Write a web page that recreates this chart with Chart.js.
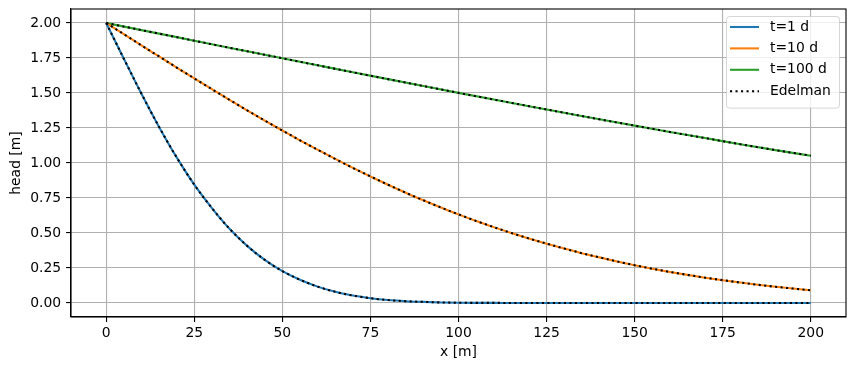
<!DOCTYPE html>
<html>
<head>
<meta charset="utf-8">
<script src="https://cdn.jsdelivr.net/npm/chart.js@4"></script>
<style>
  html, body { margin: 0; padding: 0; background: #fff; }
  #chart { display: block; }
</style>
</head>
<body>
<canvas id="chart" width="855" height="371"></canvas>
<script>
// head profiles

const seriesLabels = ['t=1 d', 't=10 d', 't=100 d'];
const edelmanLabel = 'Edelman';

const xBlue = [0, 5, 10, 15, 20, 25, 30, 35, 40, 45, 50, 55, 60, 65, 70, 75, 80, 85, 90, 95, 100, 105, 110, 115, 120, 140, 160, 180, 200];
const headBlue = [2.000, 1.745, 1.495, 1.258, 1.040, 0.845, 0.678, 0.530, 0.408, 0.308, 0.228, 0.166, 0.117, 0.080, 0.053, 0.034, 0.021, 0.013, 0.008, 0.004, 0.002, 0.001, 0.001, 0.000, 0.000, 0, 0, 0, 0];

const xOrange = [0, 5, 10, 15, 20, 25, 30, 35, 40, 45, 50, 55, 60, 65, 70, 75, 80, 85, 90, 95, 100, 105, 110, 115, 120, 125, 130, 135, 140, 145, 150, 155, 160, 165, 170, 175, 180, 185, 190, 195, 200];
const headOrange = [2.000, 1.920, 1.840, 1.761, 1.682, 1.604, 1.527, 1.451, 1.376, 1.303, 1.232, 1.162, 1.095, 1.029, 0.965, 0.904, 0.845, 0.788, 0.734, 0.682, 0.633, 0.586, 0.542, 0.500, 0.461, 0.424, 0.389, 0.356, 0.326, 0.297, 0.270, 0.245, 0.222, 0.201, 0.181, 0.163, 0.146, 0.130, 0.116, 0.103, 0.091];

const xGreen = [0, 10, 20, 30, 40, 50, 60, 70, 80, 90, 100, 110, 120, 130, 140, 150, 160, 170, 180, 190, 200];
const headGreen = [2.000, 1.949, 1.899, 1.848, 1.798, 1.748, 1.698, 1.648, 1.599, 1.550, 1.501, 1.453, 1.406, 1.359, 1.312, 1.267, 1.222, 1.178, 1.134, 1.092, 1.052];

const xTicks = [0, 25, 50, 75, 100, 125, 150, 175, 200];
const yTicks = [0, 0.25, 0.5, 0.75, 1.0, 1.25, 1.5, 1.75, 2.0];

const colors = ['#1f77b4', '#ff7f0e', '#2ca02c'];
const FONT = { family: 'DejaVu Sans', size: 13.9 };
const LW = 2.08;

function pts(xs, ys) {
  return xs.map((x, i) => ({ x: x, y: ys[i] }));
}

const profiles = [pts(xBlue, headBlue), pts(xOrange, headOrange), pts(xGreen, headGreen)];

const datasets = [];
profiles.forEach((d, i) => {
  datasets.push({
    label: seriesLabels[i],
    data: d,
    borderColor: colors[i],
    borderWidth: LW,
    pointRadius: 0,
    cubicInterpolationMode: 'monotone',
    order: 2,
  });
});
profiles.forEach((d, i) => {
  datasets.push({
    label: i === 0 ? edelmanLabel : '',
    data: d,
    borderColor: '#000',
    borderWidth: LW,
    borderDash: [LW, 3.43],
    borderCapStyle: 'butt',
    pointRadius: 0,
    cubicInterpolationMode: 'monotone',
    order: 1,
  });
});

// top/right spines like matplotlib
const framePlugin = {
  id: 'frame',
  afterDatasetsDraw(chart) {
    const a = chart.chartArea, ctx = chart.ctx;
    ctx.save();
    ctx.strokeStyle = '#000';
    ctx.lineWidth = 1.1;
    ctx.strokeRect(a.left, a.top, a.right - a.left, a.bottom - a.top);
    ctx.restore();
  }
};

const legendPlugin = {
  id: 'mplLegend',
  afterDraw(chart) {
    const ctx = chart.ctx;
    const a = chart.chartArea;
    const items = chart.data.datasets.filter(d => d.label);
    const w = 113, rowH = 21.4;
    const h = 10 + rowH * items.length - 4;
    const x0 = a.right - 7 - w, y0 = a.top + 7;
    ctx.save();
    ctx.beginPath();
    ctx.roundRect(x0 + 0.5, y0 + 0.5, w, h, 3);
    ctx.fillStyle = 'rgba(255,255,255,0.8)';
    ctx.fill();
    ctx.strokeStyle = 'rgba(204,204,204,0.8)';
    ctx.lineWidth = 1;
    ctx.stroke();
    ctx.font = FONT.size + 'px ' + FONT.family;
    ctx.textBaseline = 'middle';
    ctx.textAlign = 'left';
    items.forEach((d, i) => {
      const cy = y0 + 11 + i * rowH;
      ctx.beginPath();
      ctx.strokeStyle = d.borderColor;
      ctx.lineWidth = d.borderWidth;
      ctx.setLineDash(d.borderDash || []);
      ctx.moveTo(x0 + 4, cy);
      ctx.lineTo(x0 + 33, cy);
      ctx.stroke();
      ctx.setLineDash([]);
      ctx.fillStyle = '#000';
      ctx.fillText(d.label, x0 + 44, cy);
    });
    ctx.restore();
  }
};

new Chart(document.getElementById('chart'), {
  type: 'line',
  data: { datasets: datasets },
  plugins: [framePlugin, legendPlugin],
  options: {
    responsive: false,
    animation: false,
    devicePixelRatio: 1,
    layout: { padding: { left: 0, top: 9, right: 9, bottom: 0 } },
    plugins: { legend: { display: false }, tooltip: { enabled: false } },
    scales: {
      x: {
        type: 'linear',
        min: -10,
        max: 210,
        afterBuildTicks(s) { s.ticks = xTicks.map(v => ({ value: v })); },
        afterFit(s) { s.height = 54; s.paddingLeft = 0; s.paddingRight = 0; },
        ticks: { font: FONT, color: '#000', padding: 3.5, maxRotation: 0, callback: v => String(v) },
        grid: { color: '#b0b0b0', lineWidth: 1.1, tickLength: 4.9, tickColor: '#000', tickWidth: 1.1 },
        border: { color: '#000', width: 1.1 },
        title: { display: true, text: 'x [m]', font: FONT, color: '#000', padding: { top: 0, bottom: 10.5 } },
      },
      y: {
        type: 'linear',
        min: -0.1,
        max: 2.1,
        afterBuildTicks(s) { s.ticks = yTicks.map(v => ({ value: v })); },
        afterFit(s) { s.width = 71; s.paddingTop = 0; s.paddingBottom = 0; },
        ticks: { font: FONT, color: '#000', padding: 4.9, callback: v => v.toFixed(2) },
        grid: { color: '#b0b0b0', lineWidth: 1.1, tickLength: 4.9, tickColor: '#000', tickWidth: 1.1 },
        border: { color: '#000', width: 1.1 },
        title: { display: true, text: 'head [m]', font: FONT, color: '#000', padding: { top: 8.4, bottom: 0 } },
      },
    },
  },
});
</script>
</body>
</html>
